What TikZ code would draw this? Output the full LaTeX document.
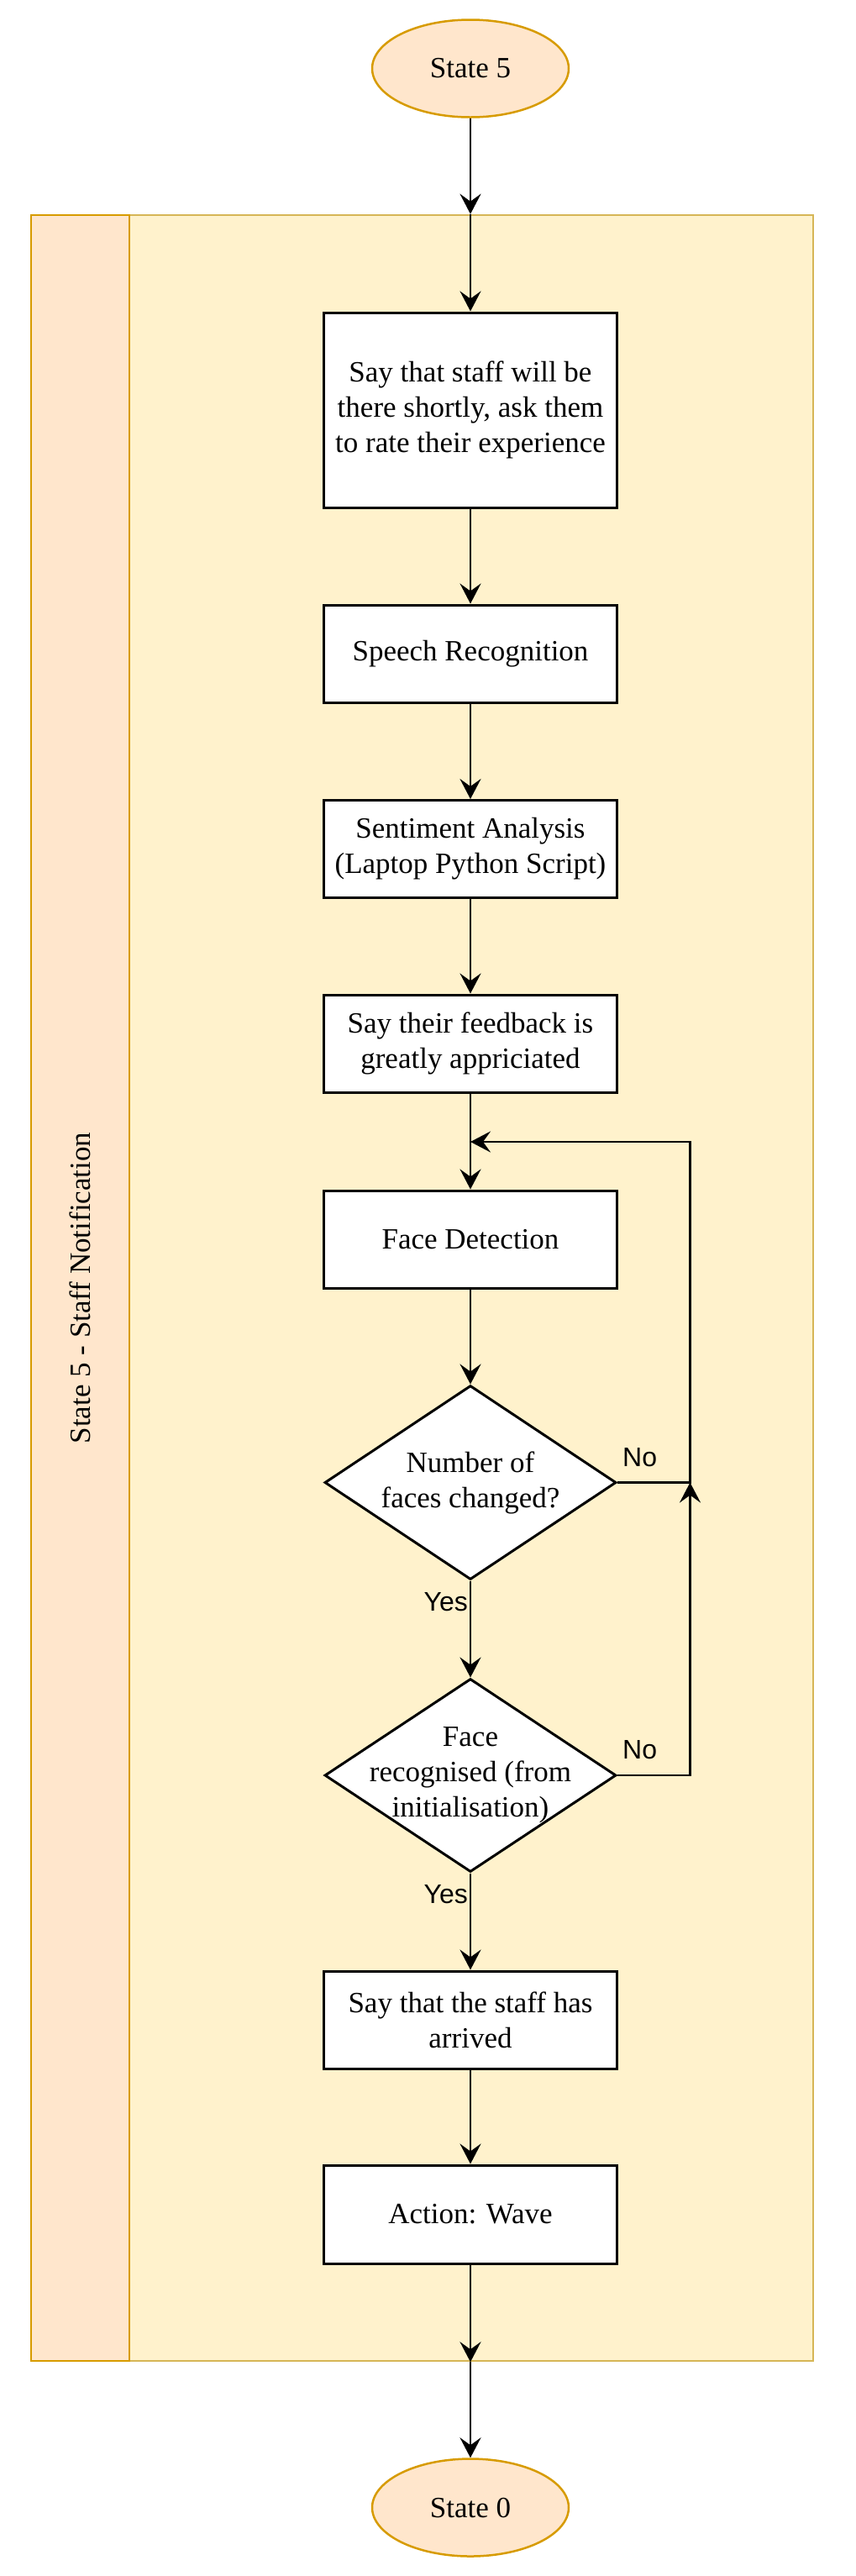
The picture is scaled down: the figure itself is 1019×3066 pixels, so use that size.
\documentclass[tikz,border=0pt]{standalone}
\usepackage{fontspec}
\setmainfont{Liberation Serif}
\newfontfamily\labelsans{Liberation Sans}
\usetikzlibrary{arrows.meta,shapes.geometric,calc}
\definecolor{poolfill}{HTML}{FFF2CC}
\definecolor{poolline}{HTML}{D6B656}
\definecolor{bandfill}{HTML}{FFE6CC}
\definecolor{bandline}{HTML}{D79B00}
\begin{document}
\begin{tikzpicture}[x=1pt,y=-1pt,
  every node/.style={font=\fontsize{35}{42}\selectfont},
  procbox/.style={draw=black, fill=white, line width=3pt, minimum width=349pt, inner sep=0pt, align=center},
  term/.style={ellipse, draw=bandline, fill=bandfill, line width=2.5pt, minimum width=234pt, minimum height=116pt, inner sep=0pt},
  decis/.style={diamond, draw=black, fill=white, line width=3pt, minimum width=347pt, inner sep=0pt},
  dtext/.style={align=center, inner sep=0pt},
  flow/.style={line width=2.7pt, -{Stealth[length=24pt,width=25pt,inset=9pt]}},
  lbl/.style={font=\labelsans\fontsize{32}{38}\selectfont, inner sep=0pt}
]
\useasboundingbox (0,0) rectangle (1019,3066);
% pool
\node[draw=poolline, fill=poolfill, line width=2.5pt, minimum width=931pt, minimum height=2554pt, inner sep=0pt] (pool) at (502.5,1533) {};
\node[draw=bandline, fill=bandfill, line width=2.5pt, minimum width=117pt, minimum height=2554pt, inner sep=0pt] (band) at (95.5,1533) {};
\node[rotate=90] (poollbl) at (95.5,1533) {State 5 - Staff Notification};
% nodes
\node[term] (s5) at (560,81.5) {State 5};
\node[procbox, minimum height=232pt] (b1) at (560,488) {Say that staff will be\\there shortly, ask them\\to rate their experience};
\node[procbox, minimum height=116pt] (b2) at (560,778) {Speech Recognition};
\node[procbox, minimum height=116pt] (b3) at (560,1010.5) {Sentiment Analysis\\(Laptop Python Script)};
\node[procbox, minimum height=116pt] (b4) at (560,1242) {Say their feedback is\\greatly appriciated};
\node[procbox, minimum height=116pt] (b5) at (560,1475) {Face Detection};
\node[decis, minimum height=231pt] (d1) at (560,1764.5) {};
\node[dtext] (d1t) at (560,1764.5) {Number of\\faces changed?};
\node[decis, minimum height=230pt] (d2) at (560,2113) {};
\node[dtext] (d2t) at (560,2113) {Face\\recognised (from\\initialisation)};
\node[procbox, minimum height=116pt] (b6) at (560,2404) {Say that the staff has\\arrived};
\node[procbox, minimum height=117pt] (b7) at (560,2635.5) {Action: Wave};
\node[term] (s0) at (560,2984.5) {State 0};
% helper coordinates
\coordinate (ptop) at (pool.north -| s5);
\coordinate (pbot) at (pool.south -| s5);
\coordinate (jn) at (560,1359);
\coordinate (rt) at (821.5,1359);
\coordinate (rj) at (d1.east -| rt);
% connectors
\draw[flow] (s5) -- (ptop);
\draw[flow] (ptop) -- (b1);
\draw[flow] (b1) -- (b2);
\draw[flow] (b2) -- (b3);
\draw[flow] (b3) -- (b4);
\draw[flow] (b4) -- (b5);
\draw[flow] (b5) -- (d1.north);
\draw[flow] (d1.south) -- (d2.north);
\draw[flow] (d2.south) -- (b6);
\draw[flow] (b6) -- (b7);
\draw[flow] (b7) -- (pbot);
\draw[flow] (pbot) -- (s0);
\draw[flow] (d1.east) -- (rj) -- (rt) -- (jn);
\draw[flow] (d2.east) -| (rj);
% labels
\node[lbl, anchor=east] (y1) at (557,1907) {Yes};
\node[lbl, anchor=east] (y2) at (557,2255) {Yes};
\node[lbl, anchor=west] (n1) at (741,1735) {No};
\node[lbl, anchor=west] (n2) at (741,2083) {No};
\end{tikzpicture}
\end{document}
